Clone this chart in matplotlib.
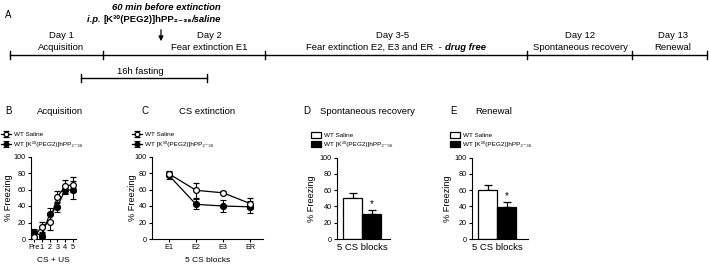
import matplotlib
matplotlib.use("Agg")
import matplotlib.pyplot as plt
import numpy as np

plt.rcParams['font.family'] = ['Liberation Sans', 'DejaVu Sans']

W, H = 709, 265

# data
acq_labels = ['Pre', '1', '2', '3', '4', '5']
acq_saline = [3, 15, 21, 51, 64, 66]
acq_saline_err = [4, 6, 10, 7, 8, 9]
acq_k30 = [8, 4, 30, 39, 60, 59]
acq_k30_err = [4, 3, 8, 6, 5, 11]

ext_labels = ['E1', 'E2', 'E3', 'ER']
ext_saline = [79, 59, 56, 43]
ext_saline_err = [3, 9, 2, 7]
ext_k30 = [77, 42, 40, 39]
ext_k30_err = [4, 6, 7, 7]

sr_means = [50, 31]
sr_err = [6, 5]
ren_means = [60, 39]
ren_err = [6, 6]

lbl_saline = 'WT Saline'
lbl_k30 = 'WT [K\u00b3\u2070(PEG2)]hPP\u2082\u208b\u2083\u2086'

timeline_ticks = [10, 103, 265, 527, 632, 707]
day_labels = [('Day 1', 'Acquisition', 61),
              ('Day 2', 'Fear extinction E1', 209),
              ('Day 12', 'Spontaneous recovery', 580),
              ('Day 13', 'Renewal', 673)]

fig = plt.figure(figsize=(W / 100, H / 100), dpi=100)
ax0 = fig.add_axes([0, 0, 1, 1])
ax0.set_xlim(0, W)
ax0.set_ylim(H, 0)
ax0.axis('off')


def rich_text(x, y, parts, size=6.8):
    r = fig.canvas.get_renderer()
    objs = []
    for s, style, weight in parts:
        objs.append(ax0.text(0, y, s, fontstyle=style, fontweight=weight,
                             ha='left', va='center', fontsize=size))
    widths = [t.get_window_extent(r).width for t in objs]
    cur = x - sum(widths) / 2
    for t, w in zip(objs, widths):
        t.set_x(cur)
        cur += w


# panel A timeline
ax0.text(5, 15, 'A', fontsize=7, va='center')
rich_text(166, 7, [('60 min before extinction', 'italic', 'bold')])
rich_text(154, 19, [('i.p. ', 'italic', 'bold'),
                    ('[K\u00b3\u2070(PEG2)]hPP\u2082\u208b\u2083\u2086', 'normal', 'bold'),
                    ('/saline', 'italic', 'bold')])
ax0.annotate('', xy=(161, 44), xytext=(161, 27),
             arrowprops=dict(arrowstyle='-|>', color='black', lw=0.9, mutation_scale=7))

ax0.plot([timeline_ticks[0], timeline_ticks[-1]], [55, 55], color='black', lw=1)
for tx in timeline_ticks:
    ax0.plot([tx, tx], [51, 59], color='black', lw=1)
for d, name, cx in day_labels:
    ax0.text(cx, 35, d, ha='center', va='center', fontsize=6.8)
    ax0.text(cx, 47, name, ha='center', va='center', fontsize=6.8)
ax0.text(393, 35, 'Day 3-5', ha='center', va='center', fontsize=6.8)
rich_text(396, 47, [('Fear extinction E2, E3 and ER  - ', 'normal', 'normal'),
                    ('drug free', 'italic', 'bold')])

ax0.plot([81, 207], [78, 78], color='black', lw=1)
for tx in [81, 207]:
    ax0.plot([tx, tx], [74, 82], color='black', lw=1)
ax0.text(140, 71, '16h fasting', ha='center', va='center', fontsize=6.8)

# panel headers
for letter, lx, title, tx in [('B', 5, 'Acquisition', 60),
                              ('C', 142, 'CS extinction', 207),
                              ('D', 303, 'Spontaneous recovery', 367),
                              ('E', 450, 'Renewal', 494)]:
    ax0.text(lx, 111, letter, fontsize=7, va='center')
    ax0.text(tx, 111, title, fontsize=6.8, va='center', ha='center')


def make_axes(L, R, T=156.5, B=239):
    ax = fig.add_axes([L / W, 1 - B / H, (R - L) / W, (B - T) / H])
    ax.spines['top'].set_visible(False)
    ax.spines['right'].set_visible(False)
    for s in ['left', 'bottom']:
        ax.spines[s].set_linewidth(0.8)
    ax.set_ylim(0, 100)
    ax.set_yticks([0, 20, 40, 60, 80, 100])
    ax.tick_params(width=0.8, length=2.5, pad=1.2, labelsize=5.2)
    ax.patch.set_alpha(0)
    return ax


def set_ylab(ax, L, R, xpix):
    # xpix = right edge of the rotated label
    ax.set_ylabel('% Freezing', fontsize=6.6)
    ax.yaxis.set_label_coords((xpix - L) / (R - L), 0.5)


def line_panel(ax, sal, sal_e, k30, k30_e, leg_x):
    x = np.arange(len(sal))
    ax.errorbar(x, k30, yerr=k30_e, color='black', marker='o', ms=4.2, mfc='black',
                mec='black', lw=0.9, elinewidth=0.8, capsize=2, capthick=0.8,
                label=lbl_k30, zorder=3)
    ax.errorbar(x, sal, yerr=sal_e, color='black', marker='o', ms=4.2, mfc='white',
                mec='black', mew=0.9, lw=0.9, elinewidth=0.8, capsize=2, capthick=0.8,
                label=lbl_saline, zorder=4)
    h, l = ax.get_legend_handles_labels()
    ax.legend(h[::-1], l[::-1], loc='upper left', bbox_to_anchor=(leg_x / W, 1 - 132 / H),
              bbox_transform=fig.transFigure, frameon=False, fontsize=4.6,
              handlelength=1.6, handletextpad=0.5, borderpad=0, borderaxespad=0,
              labelspacing=0.6, markerscale=0.8)


# B
axB = make_axes(31, 76)
line_panel(axB, acq_saline, acq_saline_err, acq_k30, acq_k30_err, 1)
axB.set_xlim(-0.4, 5.4)
axB.set_xticks(range(len(acq_labels)))
axB.set_xticklabels(acq_labels)
axB.set_xlabel('CS + US', fontsize=6, labelpad=4)
set_ylab(axB, 31, 76, 13)

# C
axC = make_axes(152, 263)
line_panel(axC, ext_saline, ext_saline_err, ext_k30, ext_k30_err, 132)
axC.set_xlim(-0.63, 3.48)
axC.set_xticks(range(len(ext_labels)))
axC.set_xticklabels(ext_labels)
axC.set_xlabel('5 CS blocks', fontsize=6, labelpad=4)
set_ylab(axC, 152, 263, 137)


def bar_panel(ax, means, err, leg_x):
    x = np.arange(len(means))
    bars = ax.bar(x, means, width=1, color=['white', 'black'], edgecolor='black', lw=0.9,
                  zorder=2)
    ax.errorbar(x, means, yerr=[[0, 0], err], fmt='none', ecolor='black',
                elinewidth=0.9, capsize=3, capthick=0.9, zorder=1)
    ax.text(1, means[1] + err[1] + 1, '*', ha='center', va='bottom', fontsize=7)
    ax.set_xticks([0.5])
    ax.set_xticklabels(['5 CS blocks'], fontsize=6.8)
    ax.tick_params(axis='x', length=0, pad=3)
    ax.legend([bars[0], bars[1]], [lbl_saline, lbl_k30], loc='upper left',
              bbox_to_anchor=(leg_x / W, 1 - 132 / H), bbox_transform=fig.transFigure,
              frameon=False, fontsize=4.6, handlelength=1.6, handleheight=1.0,
              handletextpad=0.5, borderpad=0, borderaxespad=0, labelspacing=0.5)


# D
axD = make_axes(337, 390, T=157.5)
bar_panel(axD, sr_means, sr_err, 311)
axD.set_xlim(-0.81, 1.95)
set_ylab(axD, 337, 390, 316)

# E
axE = make_axes(472, 528, T=157.5)
bar_panel(axE, ren_means, ren_err, 450)
axE.set_xlim(-0.82, 2.1)
set_ylab(axE, 472, 528, 452)

fig.savefig('out.png', dpi=100)
